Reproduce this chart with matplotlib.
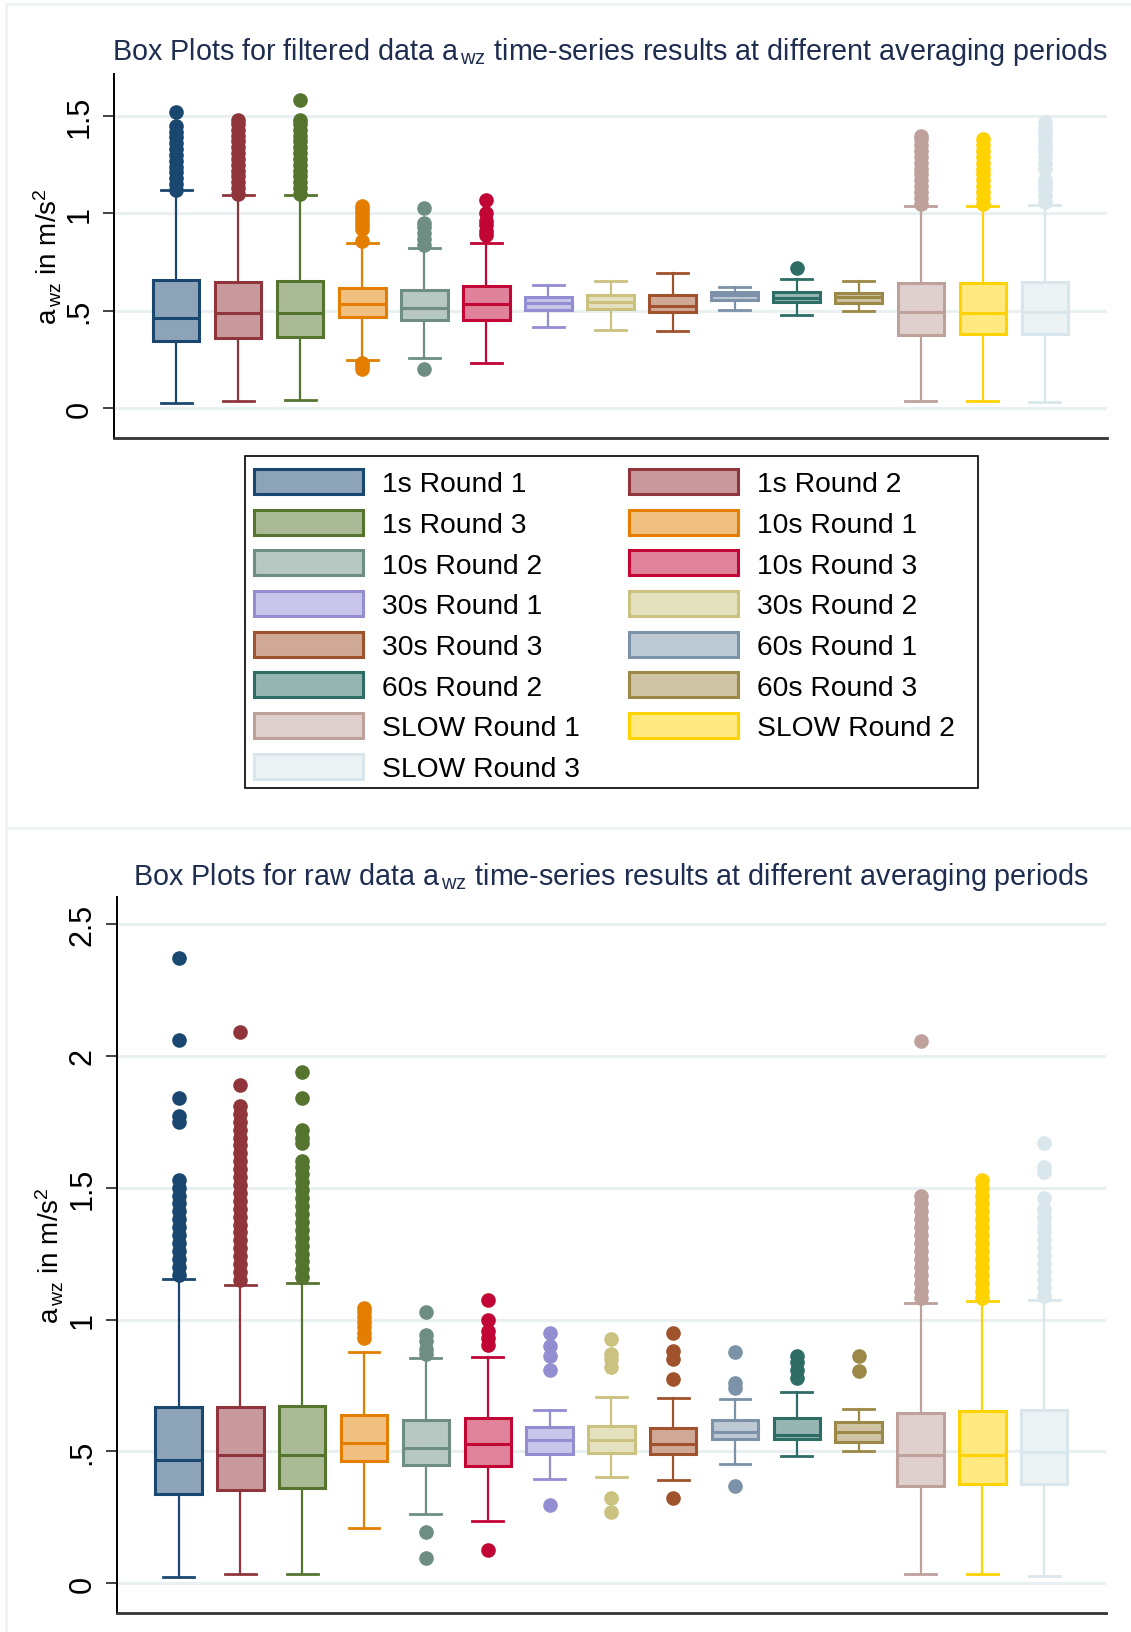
import matplotlib
matplotlib.use("Agg")
import matplotlib.pyplot as plt
from matplotlib.patches import Patch, Rectangle
from matplotlib.lines import Line2D
from matplotlib.colors import to_rgb

plt.rcParams['font.family'] = ['Liberation Sans', 'DejaVu Sans']
plt.rcParams['mathtext.fontset'] = 'custom'
plt.rcParams['mathtext.rm'] = 'Liberation Sans'
plt.rcParams['mathtext.it'] = 'Liberation Sans:italic'
plt.rcParams['mathtext.bf'] = 'Liberation Sans:bold'

W, H = 1131, 1633

labels = ['1s Round 1', '1s Round 2', '1s Round 3',
          '10s Round 1', '10s Round 2', '10s Round 3',
          '30s Round 1', '30s Round 2', '30s Round 3',
          '60s Round 1', '60s Round 2', '60s Round 3',
          'SLOW Round 1', 'SLOW Round 2', 'SLOW Round 3']

# filtered data (top panel)
filt_lo = [0.026, 0.034, 0.043, 0.247, 0.259, 0.231, 0.414, 0.402, 0.397, 0.505, 0.478, 0.500, 0.034, 0.034, 0.029]
filt_q1 = [0.346, 0.358, 0.365, 0.469, 0.454, 0.454, 0.503, 0.508, 0.491, 0.556, 0.546, 0.539, 0.375, 0.382, 0.382]
filt_med = [0.462, 0.486, 0.486, 0.534, 0.512, 0.534, 0.540, 0.543, 0.526, 0.580, 0.563, 0.569, 0.491, 0.486, 0.491]
filt_q3 = [0.656, 0.647, 0.654, 0.616, 0.608, 0.628, 0.569, 0.580, 0.580, 0.598, 0.594, 0.589, 0.642, 0.642, 0.649]
filt_hi = [1.120, 1.092, 1.092, 0.846, 0.820, 0.846, 0.632, 0.654, 0.693, 0.620, 0.663, 0.654, 1.038, 1.038, 1.045]
filt_out = [
    [1.12, 1.15, 1.18, 1.21, 1.24, 1.27, 1.30, 1.33, 1.36, 1.39, 1.42, 1.45, 1.52],
    [1.10, 1.13, 1.16, 1.19, 1.22, 1.25, 1.28, 1.31, 1.34, 1.37, 1.40, 1.43, 1.46, 1.48],
    [1.10, 1.13, 1.16, 1.19, 1.22, 1.25, 1.28, 1.31, 1.34, 1.37, 1.40, 1.43, 1.46, 1.48, 1.58],
    [0.20, 0.215, 0.23, 0.86, 0.92, 0.94, 0.96, 0.98, 1.00, 1.02, 1.04],
    [0.20, 0.84, 0.87, 0.90, 0.93, 0.95, 1.03],
    [0.89, 0.91, 0.94, 0.96, 1.00, 1.07],
    [], [], [], [],
    [0.72],
    [],
    [1.05, 1.08, 1.11, 1.14, 1.17, 1.20, 1.23, 1.26, 1.29, 1.32, 1.35, 1.38, 1.40],
    [1.05, 1.08, 1.11, 1.14, 1.17, 1.20, 1.23, 1.26, 1.29, 1.32, 1.35, 1.38],
    [1.06, 1.09, 1.12, 1.15, 1.17, 1.23, 1.26, 1.29, 1.32, 1.35, 1.38, 1.41, 1.44, 1.47],
]

# raw data (bottom panel)
raw_lo = [0.024, 0.034, 0.034, 0.210, 0.262, 0.235, 0.397, 0.402, 0.392, 0.451, 0.481, 0.502, 0.034, 0.034, 0.029]
raw_q1 = [0.340, 0.354, 0.360, 0.465, 0.450, 0.446, 0.490, 0.494, 0.489, 0.547, 0.547, 0.535, 0.370, 0.375, 0.375]
raw_med = [0.468, 0.486, 0.486, 0.532, 0.513, 0.527, 0.543, 0.545, 0.527, 0.572, 0.562, 0.572, 0.486, 0.486, 0.497]
raw_q3 = [0.667, 0.667, 0.673, 0.638, 0.619, 0.628, 0.593, 0.598, 0.588, 0.619, 0.628, 0.613, 0.647, 0.653, 0.658]
raw_hi = [1.155, 1.130, 1.140, 0.878, 0.853, 0.858, 0.658, 0.708, 0.703, 0.697, 0.724, 0.662, 1.064, 1.069, 1.074]
raw_out = [
    [1.17, 1.20, 1.23, 1.26, 1.29, 1.32, 1.35, 1.38, 1.41, 1.44, 1.47, 1.50, 1.53, 1.75, 1.77, 1.84, 2.06, 2.37],
    [1.15, 1.18, 1.21, 1.24, 1.27, 1.30, 1.33, 1.36, 1.39, 1.42, 1.45, 1.48, 1.51, 1.54, 1.57, 1.60, 1.63,
     1.66, 1.69, 1.72, 1.75, 1.78, 1.81, 1.89, 2.09],
    [1.16, 1.19, 1.22, 1.25, 1.28, 1.31, 1.34, 1.37, 1.40, 1.43, 1.46, 1.49, 1.52, 1.55, 1.58, 1.60,
     1.67, 1.69, 1.72, 1.84, 1.94],
    [0.93, 0.95, 0.97, 0.99, 1.01, 1.03, 1.045],
    [0.095, 0.196, 0.87, 0.89, 0.92, 0.94, 1.03],
    [0.126, 0.905, 0.93, 0.955, 1.00, 1.075],
    [0.297, 0.81, 0.86, 0.90, 0.95],
    [0.27, 0.325, 0.82, 0.85, 0.87, 0.925],
    [0.322, 0.775, 0.85, 0.88, 0.95],
    [0.368, 0.74, 0.76, 0.876],
    [0.78, 0.81, 0.84, 0.86],
    [0.804, 0.863],
    [1.08, 1.11, 1.14, 1.17, 1.20, 1.23, 1.26, 1.29, 1.32, 1.35, 1.38, 1.41, 1.44, 1.47, 2.055],
    [1.08, 1.11, 1.14, 1.17, 1.20, 1.23, 1.26, 1.29, 1.32, 1.35, 1.38, 1.41, 1.44, 1.47, 1.50, 1.53],
    [1.09, 1.12, 1.15, 1.18, 1.21, 1.24, 1.27, 1.30, 1.33, 1.36, 1.39, 1.42, 1.46, 1.56, 1.58, 1.67],
]

edge_colors = ['#1a476f', '#90353b', '#55752f', '#e37e00', '#6e8e84', '#c10534',
               '#938dd2', '#cac27e', '#a0522d', '#7b92a8', '#2d6d66', '#9c8847',
               '#bfa19c', '#ffd200', '#d9e6eb']
fill_colors = [tuple(0.5 * v + 0.5 for v in to_rgb(c)) for c in edge_colors]
grid_col = '#e8f0f2'
title_col = '#1e2d50'


def make_stats(lo, q1, med, q3, hi, out):
    st = []
    for i in range(len(labels)):
        st.append(dict(whislo=lo[i], q1=q1[i], med=med[i], q3=q3[i], whishi=hi[i],
                       fliers=out[i], label=labels[i]))
    return st


def draw_panel(ax, stats, ylim, yticks, yticklabels):
    res = ax.bxp(stats, positions=range(1, 16), widths=0.75, capwidths=0.5,
                 patch_artist=True, showfliers=True, manage_ticks=False)
    for i, c in enumerate(edge_colors):
        res['boxes'][i].set(facecolor=fill_colors[i], edgecolor=c, linewidth=2.2, zorder=3)
        res['medians'][i].set(color=c, linewidth=2.2, zorder=4)
        for w in res['whiskers'][2 * i:2 * i + 2]:
            w.set(color=c, linewidth=1.6, zorder=2)
        for cp in res['caps'][2 * i:2 * i + 2]:
            cp.set(color=c, linewidth=2.0, zorder=2)
        res['fliers'][i].set(marker='o', markerfacecolor=c, markeredgecolor=c,
                             markersize=9.5, linestyle='none', zorder=2)
    ax.set_xlim(0, 16)
    ax.set_ylim(*ylim)
    ax.set_xticks([])
    ax.set_yticks(yticks)
    ax.set_yticklabels(yticklabels, rotation=90, va='center', fontsize=22)
    ax.tick_params(axis='y', length=8, width=1.2, pad=6, color='#222222')
    ax.grid(axis='y', color=grid_col, linewidth=2.2)
    ax.set_axisbelow(True)
    for s in ['top', 'right']:
        ax.spines[s].set_visible(False)
    ax.spines['left'].set_linewidth(1.4)
    ax.spines['bottom'].set_linewidth(2.0)
    ax.spines['bottom'].set_color('#333333')


fig = plt.figure(figsize=(W / 100, H / 100), dpi=100)

# light graph-region borders
for xs, ys in [([6, W], [5, 5]), ([6, 6], [5, H]), ([6, W], [829, 829])]:
    fig.add_artist(Line2D([x / W for x in xs], [1 - y / H for y in ys],
                          color='#edf2f4', linewidth=2))

ax1 = fig.add_axes([114 / W, 1 - 439 / H, 993 / W, 364 / H])
draw_panel(ax1, make_stats(filt_lo, filt_q1, filt_med, filt_q3, filt_hi, filt_out),
           (-0.154, 1.716), [0, 0.5, 1, 1.5], ['0', '.5', '1', '1.5'])

ax2 = fig.add_axes([116.7 / W, 1 - 1614.3 / H, 989.3 / W, 716 / H])
draw_panel(ax2, make_stats(raw_lo, raw_q1, raw_med, raw_q3, raw_hi, raw_out),
           (-0.114, 2.601), [0, 0.5, 1, 1.5, 2, 2.5], ['0', '.5', '1', '1.5', '2', '2.5'])

fig.text(610 / W, 1 - 52 / H,
         r'Box Plots for filtered data a$_{\,\mathrm{wz}}$ time-series results at different averaging periods',
         ha='center', va='center', fontsize=20.7, color=title_col)
fig.text(611 / W, 1 - 877 / H,
         r'Box Plots for raw data a$_{\,\mathrm{wz}}$ time-series results at different averaging periods',
         ha='center', va='center', fontsize=20.7, color=title_col)

ylab = r'a$_{\,\mathrm{wz}}$ in m/s$^{2}$'
fig.text(48 / W, 1 - 257 / H, ylab, rotation=90, ha='center', va='center', fontsize=20)
fig.text(50 / W, 1 - 1256 / H, ylab, rotation=90, ha='center', va='center', fontsize=20)

# legend, row-wise order in two columns; frame drawn separately
handles = [Patch(facecolor=fill_colors[i], edgecolor=edge_colors[i], linewidth=2.2)
           for i in range(len(labels))]
order = list(range(0, 15, 2)) + list(range(1, 15, 2))
leg = fig.legend([handles[i] for i in order], [labels[i] for i in order],
                 ncol=2, loc='upper left', bbox_to_anchor=(244.6 / W, 1 - 460 / H),
                 fontsize=20.3, frameon=False,
                 handlelength=3.85, handleheight=1.0, handletextpad=0.68,
                 labelspacing=0.44, columnspacing=1.74, borderpad=0.35,
                 borderaxespad=0)
fig.add_artist(Rectangle((244.6 / W, 1 - 789 / H), (978 - 244.6) / W, (789 - 457) / H,
                         fill=False, edgecolor='black', linewidth=1.2))

fig.savefig('out.png', dpi=100)
